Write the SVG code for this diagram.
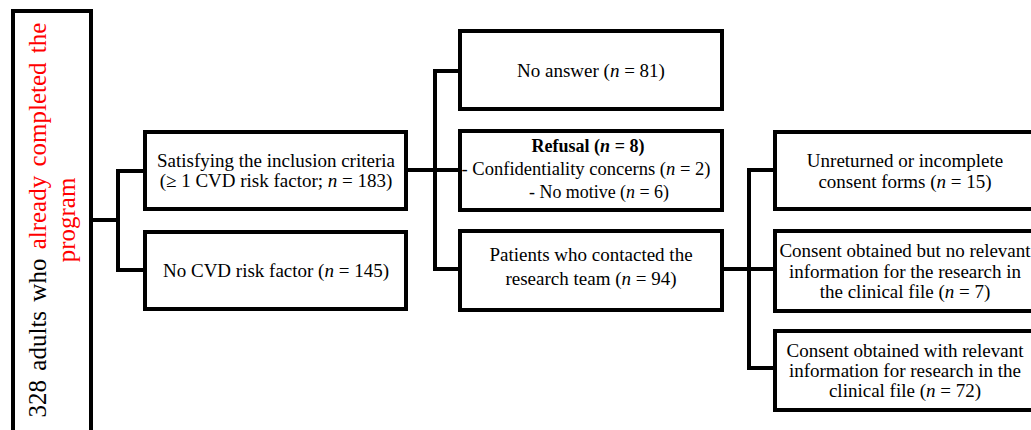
<svg xmlns="http://www.w3.org/2000/svg" width="1031" height="430" viewBox="0 0 1031 430">
<style>
.box{fill:#fff;stroke:#000;stroke-width:4}
.ln{fill:none;stroke:#000;stroke-width:4;stroke-linejoin:miter;stroke-linecap:square}
text{font-family:"Liberation Serif","Times New Roman",serif;font-size:19px;fill:#000;text-anchor:middle}
.it{font-style:italic}
.b{font-weight:bold}
.red{fill:#ff0000}
.big{font-size:25px}
.sm{font-size:18px}
</style>
<rect width="1031" height="430" fill="#fff"/>
<g id="connectors">
<path class="ln" d="M93 220 H118 M118 171 V270 M118 171 H145 M118 270 H145"/>
<path class="ln" d="M406 170 H460 M435 71 V269 M435 71 H460 M435 269 H460"/>
<path class="ln" d="M722 269 H775 M749 170 V368 M749 170 H775 M749 368 H775"/>
</g>
<g id="n0">
<rect class="box" x="13" y="11" width="78" height="430"/>
<text class="big" transform="translate(46,220) rotate(-90)" word-spacing="3">328 adults who <tspan class="red">already completed the</tspan></text>
<text class="big red" transform="translate(75,220) rotate(-90)">program</text>
</g>
<g id="n1">
<rect class="box" x="145" y="132" width="261" height="77"/>
<text x="276" y="167">Satisfying the inclusion criteria</text>
<text x="276" y="187">(≥ 1 CVD risk factor; <tspan class="it">n</tspan> = 183)</text>
</g>
<g id="n2">
<rect class="box" x="145" y="232" width="261" height="77"/>
<text x="276" y="277">No CVD risk factor (<tspan class="it">n</tspan> = 145)</text>
</g>
<g id="n3">
<rect class="box" x="460" y="31" width="262" height="78"/>
<text x="591" y="77">No answer (<tspan class="it">n</tspan> = 81)</text>
</g>
<g id="n4">
<rect class="box" x="460" y="131" width="262" height="79"/>
<text class="b sm" x="588" y="152">Refusal (<tspan class="it">n</tspan> = 8)</text>
<text class="sm" x="586" y="175" textLength="249" lengthAdjust="spacingAndGlyphs">- Confidentiality  concerns (<tspan class="it">n</tspan> = 2)</text>
<text class="sm" x="599" y="198" textLength="140" lengthAdjust="spacingAndGlyphs">- No motive (<tspan class="it">n</tspan> = 6)</text>
</g>
<g id="n5">
<rect class="box" x="460" y="231" width="262" height="79"/>
<text x="591" y="261">Patients who contacted the</text>
<text x="591" y="285">research team (<tspan class="it">n</tspan> = 94)</text>
</g>
<g id="n6">
<rect class="box" x="775" y="132" width="300" height="77"/>
<text x="905" y="167">Unreturned or incomplete</text>
<text x="905" y="188">consent forms  (<tspan class="it">n</tspan> = 15)</text>
</g>
<g id="n7">
<rect class="box" x="775" y="231" width="300" height="80"/>
<text x="905" y="257">Consent obtained but no relevant</text>
<text x="905" y="278">information for the research in</text>
<text x="905" y="298">the clinical file (<tspan class="it">n</tspan> = 7)</text>
</g>
<g id="n8">
<rect class="box" x="775" y="331" width="300" height="79"/>
<text x="905" y="357">Consent obtained with relevant</text>
<text x="905" y="377">information for research in the</text>
<text x="905" y="397">clinical file (<tspan class="it">n</tspan> = 72)</text>
</g>
</svg>
